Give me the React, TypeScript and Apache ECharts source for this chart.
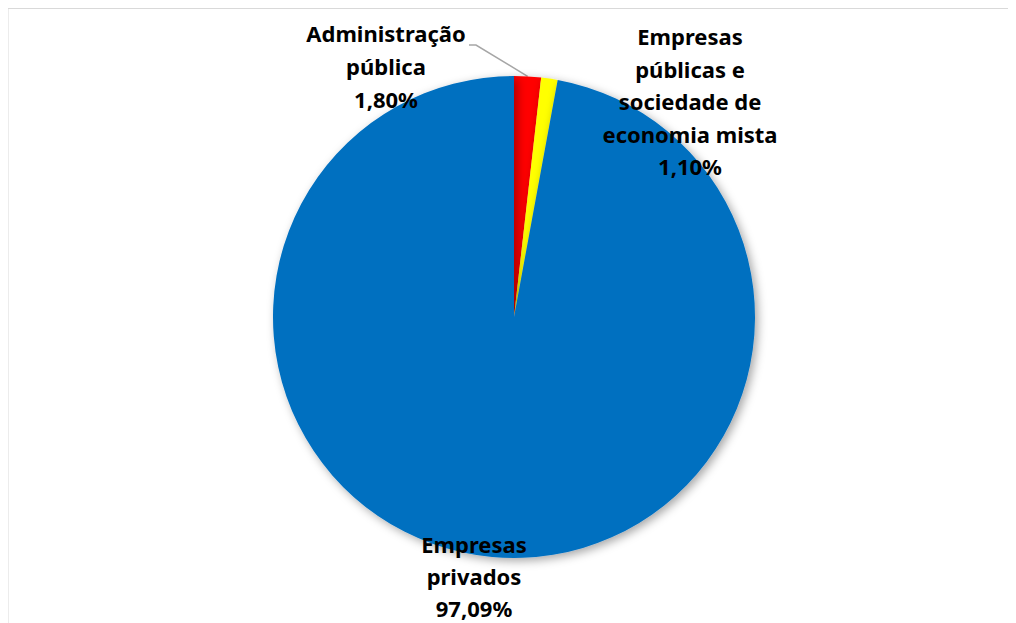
import React, { useEffect, useRef } from "react";
import * as echarts from "echarts";

const categories = [
  "Administração\npública",
  "Empresas\npúblicas e\nsociedade de\neconomia mista",
  "Empresas\nprivados",
];
const values = [1.8, 1.1, 97.09];
const colors = ["#FF0000", "#FFFF00", "#0070C0"];

// label anchor positions (chart pixel coords)
const labelPos = [
  { x: 378, y: 8 },
  { x: 682, y: 12 },
  { x: 466, y: 520 },
];

export default function App() {
  const ref = useRef<HTMLDivElement>(null);
  useEffect(() => {
    if (!ref.current) return;
    const chart = echarts.init(ref.current, null, { renderer: "svg" });
    chart.setOption({
      animation: false,
      backgroundColor: "#ffffff",
      graphic: [
        {
          type: "rect",
          shape: { x: -0.5, y: 0, width: 1200, height: 800 },
          style: { fill: "none", stroke: "#d9d9d9", lineWidth: 2 },
          silent: true,
          z: -10,
        },
      ],
      series: [
        {
          type: "pie",
          center: [506, 309],
          radius: [0, 241],
          startAngle: 90,
          clockwise: true,
          avoidLabelOverlap: false,
          itemStyle: {
            borderWidth: 0,
            shadowBlur: 10,
            shadowColor: "rgba(0,0,0,0.35)",
            shadowOffsetX: 3,
            shadowOffsetY: 3,
          },
          label: {
            show: true,
            position: "outside",
            color: "#000000",
            fontFamily: "Noto Sans",
            fontWeight: "bold",
            fontSize: 22,
            lineHeight: 33,
            align: "center",
            formatter: (p: any) =>
              categories[p.dataIndex] + "\n" + values[p.dataIndex].toFixed(2).replace(".", ",") + "%",
          },
          labelLine: { show: false },
          labelLayout: (p: any) => {
            const pos = labelPos[p.dataIndex];
            const res: any = { x: pos.x, y: pos.y, align: "center", verticalAlign: "top" };
            if (p.dataIndex === 0 && p.labelLinePoints && p.labelLinePoints.length) {
              const start = p.labelLinePoints[0];
              res.labelLinePoints = [start, [468, 37], [461, 37]];
            }
            return res;
          },
          data: values.map((v, i) => ({
            name: categories[i],
            value: v,
            itemStyle: { color: colors[i] },
            labelLine:
              i === 0
                ? { show: true, length: 10, length2: 10, lineStyle: { color: "#a6a6a6", width: 1.5 } }
                : { show: false },
            label: i === 1 ? { lineHeight: 32.5 } : i === 2 ? { lineHeight: 32 } : {},
          })),
        },
      ],
    });
    return () => chart.dispose();
  }, []);
  return <div ref={ref} style={{ width: 1008, height: 615 }} />;
}
